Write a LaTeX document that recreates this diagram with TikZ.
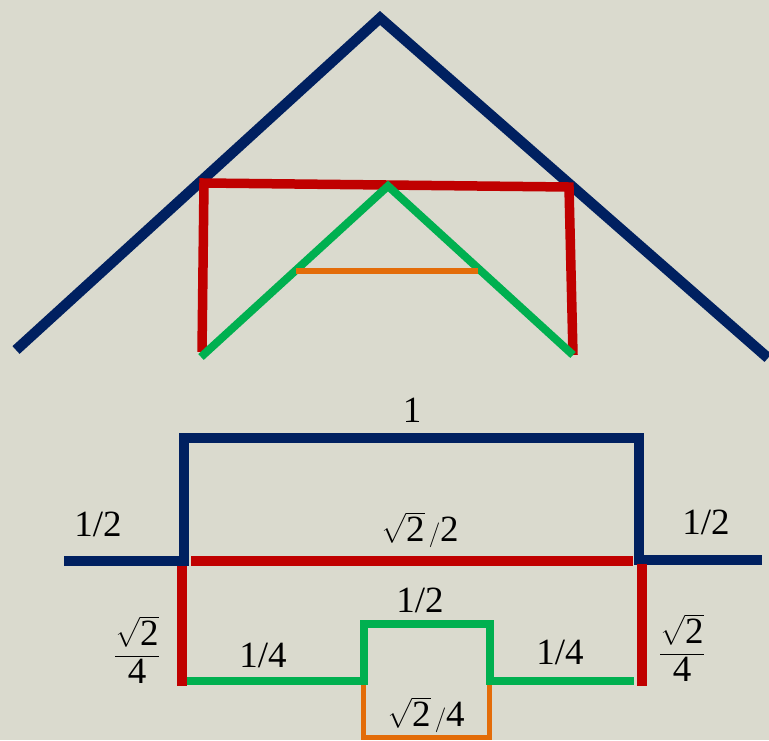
\documentclass[tikz,border=0pt]{standalone}
\usepackage{amsmath}
\usepackage{fontspec}
\setmainfont{Liberation Serif}
\definecolor{paper}{RGB}{218,218,206}
\definecolor{navy}{RGB}{0,32,96}
\definecolor{deepred}{RGB}{192,0,0}
\definecolor{leaf}{RGB}{0,176,80}
\definecolor{amber}{RGB}{227,108,9}
\newcommand{\rtwo}{\sqrt{\mbox{2}}}

\begin{document}
\begin{tikzpicture}[x=1pt, y=-1pt,
  rafter/.style={draw=navy, line width=10.5pt},
  beam/.style={draw=deepred, line width=9.5pt},
  strut/.style={draw=leaf, line width=8pt},
  collar/.style={draw=amber, line width=5.5pt},
  lbl/.style={font=\fontsize{37}{44}\selectfont, inner sep=0pt}]
  \fill[paper] (0,0) rectangle (769,740);
  \useasboundingbox (0,0) rectangle (769,740);
  % truss
  \draw[rafter] (16,350) -- (380,18) -- (768,358);
  \draw[beam] (202,352) -- (204,183) -- (569,187) -- (573,355);
  \draw[strut] (201,357) -- (388,186) -- (573,355);
  \draw[collar] (296,271) -- (478,271);
  % unfolded lengths
  \draw[rafter] (64,561) -- (184,561) -- (184,438) -- (639,438) -- (639,560) -- (762,560);
  \draw[beam] (191,561) -- (633,561);
  \draw[beam] (182,566) -- (182,686);
  \draw[beam] (642,564) -- (642,686);
  \draw[collar, line width=5pt] (363,682) -- (363,737) -- (489,737) -- (489,682);
  \draw[strut] (187,681) -- (364,681) -- (364,624) -- (490,624) -- (490,681) -- (634,681);
  \node[lbl] (top) at (412,410) {1};
  \node[lbl] (lhalf) at (98,524) {1/2};
  \node[lbl] (rhalf) at (706,522) {1/2};
  \node[lbl] (mid) at (420,530) {$\rtwo\,/\mbox{2}$};
  \node[lbl] (lfrac) at (137,650) {$\dfrac{\rtwo}{\mbox{4}}$};
  \node[lbl] (rfrac) at (682,648) {$\dfrac{\rtwo}{\mbox{4}}$};
  \node[lbl] (step) at (420,600) {1/2};
  \node[lbl] (lqtr) at (263,655) {1/4};
  \node[lbl] (rqtr) at (560,652) {1/4};
  \node[lbl] (low) at (426,715) {$\rtwo\,/\mbox{4}$};
\end{tikzpicture}
\end{document}
